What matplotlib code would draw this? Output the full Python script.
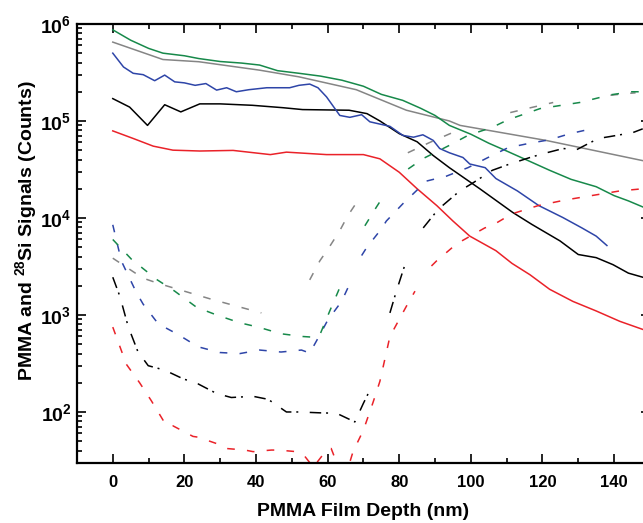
import numpy as np
import matplotlib
matplotlib.use('Agg')
import matplotlib.pyplot as plt
from matplotlib.ticker import LogLocator, FuncFormatter, MultipleLocator, NullFormatter

nan = np.nan

# PMMA signals (solid lines)
green_x = [0, 5, 10, 14, 20, 24, 30, 36, 41, 46, 52, 58, 64, 70, 75, 81, 86, 90, 94, 100, 105, 110, 116, 122, 128, 135, 140, 144, 148]
green_y = [8.7e5, 6.8e5, 5.6e5, 5.0e5, 4.7e5, 4.4e5, 4.1e5, 3.95e5, 3.77e5, 3.3e5, 3.1e5, 2.9e5, 2.63e5, 2.28e5, 1.88e5, 1.63e5,
           1.35e5, 1.14e5, 9.0e4, 7.3e4, 5.9e4, 4.9e4, 3.9e4, 3.1e4, 2.5e4, 2.1e4, 1.7e4, 1.5e4, 1.3e4]

gray_x = [0, 14, 24, 41, 52, 68, 82, 94, 97, 121, 148]
gray_y = [6.5e5, 4.3e5, 4.08e5, 3.34e5, 2.85e5, 2.1e5, 1.29e5, 1.0e5, 9.0e4, 6.3e4, 3.9e4]

blue_x = [0, 3, 5.7, 8.5, 11.7, 14.5, 17.3, 20, 23, 26, 29, 31.8, 34.5, 38, 43, 49.4, 52, 55, 57.3, 59.7, 63.4, 66.2, 69.5,
          71.8, 77.4, 81, 84, 86.6, 89.5, 91.3, 94, 97.8, 99.7, 104, 107, 113, 119, 125.7, 131, 135, 138]
blue_y = [5.0e5, 3.6e5, 3.1e5, 3.0e5, 2.6e5, 2.97e5, 2.53e5, 2.47e5, 2.33e5, 2.43e5, 2.08e5, 2.2e5, 2.0e5, 2.1e5, 2.2e5, 2.2e5,
          2.33e5, 2.4e5, 2.2e5, 1.77e5, 1.14e5, 1.09e5, 1.16e5, 9.8e4, 8.8e4, 7.1e4, 6.8e4, 7.2e4, 6.3e4, 5.2e4, 4.7e4, 4.2e4,
          3.6e4, 3.3e4, 2.55e4, 1.9e4, 1.34e4, 1.01e4, 7.9e3, 6.5e3, 5.2e3]

black_x = [0, 4.7, 9.7, 14.5, 19, 24.3, 30, 39, 47.5, 53, 66, 71, 74.6, 80, 85, 89.5, 94, 102.5, 111.7, 117, 124.9, 130, 135,
           139.7, 144, 148]
black_y = [1.7e5, 1.39e5, 9.0e4, 1.47e5, 1.24e5, 1.5e5, 1.5e5, 1.45e5, 1.37e5, 1.31e5, 1.29e5, 1.19e5, 1.0e5, 7.4e4, 6.1e4,
           4.4e4, 3.3e4, 2.0e4, 1.14e4, 8.6e3, 5.8e3, 4.2e3, 3.9e3, 3.3e3, 2.7e3, 2.45e3]

red_x = [0, 5.7, 11.3, 16.8, 24.3, 33.6, 44, 48.5, 59.7, 70, 74.6, 80, 85, 90.5, 95, 99.7, 107, 111.5, 116.5, 122, 128.5, 135,
         141.6, 148]
red_y = [7.9e4, 6.6e4, 5.5e4, 5.0e4, 4.9e4, 4.97e4, 4.5e4, 4.77e4, 4.5e4, 4.5e4, 4.07e4, 2.96e4, 2.0e4, 1.34e4, 9.3e3, 6.5e3,
         4.6e3, 3.4e3, 2.6e3, 1.84e3, 1.38e3, 1.1e3, 860, 710]

# 28Si signals (dashed lines), nan = gap in the trace
gray_si_x = [0, 8.4, 13, 27.6, 41.5, 48, 55, 57.8, 60.6, 63.4, 65.6, 68.4, 75, 82.4, 88.5, 96, 104, 111, 115.6, 123, 131, 139,
             142.5, 146]
gray_si_y = [3.85e3, 2.4e3, 2.1e3, 1.45e3, 1.05e3, nan, 2.3e3, 3.6e3, 5.1e3, 7.4e3, 1.05e4, 1.5e4, nan, 4.7e4, 6.0e4, 7.9e4,
             nan, 1.22e5, 1.34e5, 1.55e5, nan, 1.84e5, 1.9e5, 1.95e5]

green_si_x = [0, 5.2, 12.2, 17.3, 23.4, 29, 35.5, 40.6, 47, 53, 56, 57.8, 60.6, 62.5, 64.3, 67, 70.4, 73.6, 76, 79, 82.5, 86.7,
              94, 99.2, 106, 110.4, 119.3, 130.4, 139, 145, 148]
green_si_y = [6.0e3, 3.76e3, 2.33e3, 1.76e3, 1.2e3, 1.0e3, 830, 750, 640, 600, 590, 620, 1.1e3, 1.6e3, 2.3e3, nan, 8.3e3,
              1.29e4, 1.77e4, nan, 3.2e4, 4.1e4, 5.6e4, 7.1e4, 8.6e4, 1.03e5, 1.34e5, 1.55e5, 1.86e5, 2.0e5, 2.0e5]

blue_si_x = [0, 2.4, 6.6, 8.5, 12.7, 18.2, 23.8, 29.9, 35.5, 41, 47, 52.7, 55, 57.8, 60, 63.9, 66.2, 68, 69.5, 70.9, 75, 76.4,
             81, 87.6, 93.2, 99.2, 104.8, 110.4, 116.5, 122, 127.7, 133.7, 135]
blue_si_y = [8.5e3, 3.6e3, 1.7e3, 1.29e3, 810, 630, 470, 410, 400, 435, 415, 435, 405, 620, 880, 1.38e3, 2.1e3, nan, 4.1e3,
             4.95e3, 7.7e3, 9.3e3, 1.4e4, 2.4e4, 2.7e4, 3.3e4, 4.2e4, 5.3e4, 5.9e4, 6.4e4, 7.4e4, 8.3e4, 8.5e4]

black_si_x = [0, 2, 4.3, 7, 9.9, 14.5, 19.6, 23.8, 29, 33.1, 39.2, 43.4, 48.5, 52, 57.8, 62.5, 67.6, 70, 72.3, 75, 77.4, 79.2,
              81.6, 84, 86.7, 90.9, 96.9, 100.6, 106, 110.4, 116.5, 120.2, 125.8, 129.5, 135.6, 138.8, 145.3, 148]
black_si_y = [2.45e3, 1.55e3, 760, 420, 300, 270, 220, 195, 155, 141, 145, 135, 100, 100, 98, 97, 79, 123, 183, nan, 1.05e3,
              1.76e3, 3.3e3, nan, 7.9e3, 1.23e4, 1.9e4, 2.3e4, 3.1e4, 3.55e4, 4.2e4, 4.6e4, 5.2e4, 5.05e4, 6.6e4, 6.9e4,
              7.6e4, 8.3e4]

red_si_x = [0, 3.8, 7.5, 10.8, 15, 16.8, 22.4, 23.8, 29.9, 31.8, 36.9, 39.2, 44.3, 46.2, 51.3, 53.6, 56, 59.7, 61, 63, 65.5,
            67.1, 70, 72.7, 74.6, 77.4, 82, 84.4, 86.5, 89, 90.4, 96, 103.9, 105.8, 111.4, 118.8, 126.3, 133.7, 141.6, 148]
red_si_y = [750, 310, 200, 130, 72, 72, 56, 55, 46, 42, 40.5, 39, 40.5, 40.5, 39, 35, 27, 40.5, 42, 27, 25, 39, 65, 126, 207,
            600, 1.23e3, 1.76e3, nan, 3.2e3, 3.6e3, 5.4e3, 7.9e3, 8.3e3, 1.1e4, 1.34e4, 1.53e4, 1.7e4, 1.9e4, 2.0e4]

c_green = '#17894a'
c_gray = '#858585'
c_blue = '#2e45a8'
c_black = '#000000'
c_red = '#ea2229'

plt.rcParams['font.family'] = ['Liberation Sans', 'DejaVu Sans']
plt.rcParams['font.weight'] = 'bold'
plt.rcParams['mathtext.fontset'] = 'custom'
plt.rcParams['mathtext.rm'] = 'Liberation Sans:bold'
plt.rcParams['mathtext.bf'] = 'Liberation Sans:bold'
plt.rcParams['mathtext.it'] = 'Liberation Sans:bold'

fig = plt.figure(figsize=(6.43, 5.23), dpi=100)
ax = fig.add_axes([0.1197, 0.1153, 0.891, 0.8389])

lw = 1.1
dash = (5, 8)
dashdot = (7.5, 3.2, 1.3, 7.5)

ax.plot(red_x, red_y, color=c_red, lw=lw)
ax.plot(black_x, black_y, color=c_black, lw=lw)
ax.plot(blue_x, blue_y, color=c_blue, lw=lw)
ax.plot(gray_x, gray_y, color=c_gray, lw=lw)
ax.plot(green_x, green_y, color=c_green, lw=lw)

ax.plot(red_si_x, red_si_y, color=c_red, lw=lw, dashes=dash)
ax.plot(black_si_x, black_si_y, color=c_black, lw=lw, dashes=dashdot)
ax.plot(blue_si_x, blue_si_y, color=c_blue, lw=lw, dashes=dash)
ax.plot(gray_si_x, gray_si_y, color=c_gray, lw=lw, dashes=dash)
ax.plot(green_si_x, green_si_y, color=c_green, lw=lw, dashes=dash)

ax.set_yscale('log')
ax.set_xlim(-10, 150)
ax.set_ylim(30, 1e6)

ax.xaxis.set_major_locator(MultipleLocator(20))
ax.xaxis.set_minor_locator(MultipleLocator(10))
ax.yaxis.set_major_locator(LogLocator(base=10, numticks=10))
ax.yaxis.set_minor_locator(LogLocator(base=10, subs=np.arange(2, 10), numticks=20))
ax.yaxis.set_minor_formatter(NullFormatter())
ax.yaxis.set_major_formatter(FuncFormatter(lambda v, p: r'$\mathregular{10^{%d}}$' % round(np.log10(v))))

ax.tick_params(which='both', direction='in', top=True, right=True, width=1.2)
ax.tick_params(which='major', length=6.5)
ax.tick_params(which='minor', length=3.8)
ax.tick_params(axis='x', which='major', labelsize=12, pad=9)
ax.tick_params(axis='y', which='major', labelsize=14, pad=4)
for s in ax.spines.values():
    s.set_linewidth(1.6)

ax.set_xlabel('PMMA Film Depth (nm)', fontsize=14, fontweight='bold', labelpad=9)
ax.set_ylabel(r'PMMA and $^{\mathregular{28}}$Si Signals (Counts)', fontsize=14, fontweight='bold')
ax.yaxis.set_label_coords(-0.066, 0.53)

fig.savefig('out.png', dpi=100)
